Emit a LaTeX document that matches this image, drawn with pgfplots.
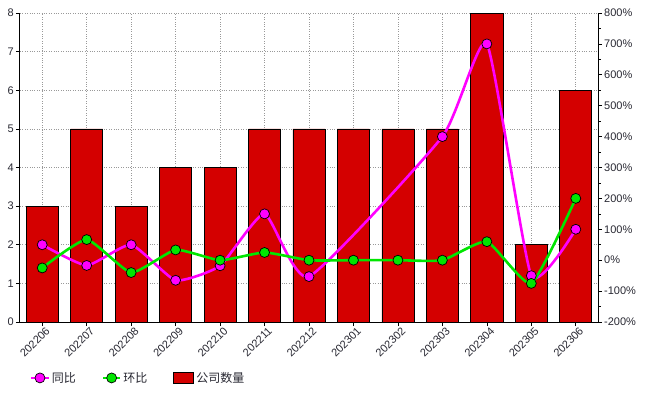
\documentclass[border=0pt]{standalone}
\usepackage{pgfplots}
\pgfplotsset{compat=1.18}
\usepackage{fontspec}
\setmainfont{Liberation Sans}
\newfontfamily\cjk{Noto Sans CJK SC}
\definecolor{barred}{RGB}{212,0,0}
\definecolor{mag}{RGB}{255,0,255}
\definecolor{grn}{RGB}{0,230,0}
\definecolor{tl}{RGB}{40,40,50}

\pgfplotstableread{
x n
0 3
1 5
2 3
3 4
4 4
5 5
6 5
7 5
8 5
9 5
10 8
11 2
12 6
}\bars
\pgfplotstableread{
x v
0 50
1 -17
2 50
3 -65
4 -18
5 150
6 -53
9 400
10 700
11 -50
12 100
}\yoy
\pgfplotstableread{
x v
0 -25
1 66.7
2 -40
3 33.3
4 0
5 25
6 0
7 0
8 0
9 0
10 60
11 -75
12 200
}\mom

\begin{document}
\begin{tikzpicture}
\pgfplotsset{
  every axis/.append style={
    scale only axis, width=578pt, height=309pt,
    xmin=-0.5, xmax=12.5,
    tick align=outside,
    major tick length=4pt, minor tick length=2.5pt,
    tick style={black, line width=0.6pt},
    tick label style={font=\fontsize{11}{13}\selectfont, text=tl},
    /pgf/number format/assume math mode=true,
    axis line style={black, line width=1pt},
  }
}
\begin{axis}[
  axis x line*=bottom, axis y line*=left,
  ymin=0, ymax=8, ytick={0,1,...,8},
  xtick={0,...,12},
  xticklabels={202206,202207,202208,202209,202210,202211,202212,202301,202302,202303,202304,202305,202306},
  x tick label style={rotate=45, anchor=north east, inner sep=0pt, xshift=2pt, yshift=-2pt},
  y tick label style={inner sep=2pt},
  grid=major,
  grid style={gray!80, dotted, line width=0.6pt},
]
\addplot[ybar, bar width=0.72, fill=barred, draw=black, line width=0.7pt] table[x=x,y=n]{\bars};
\end{axis}
\begin{axis}[
  axis y line*=right, axis x line=none,
  ymin=-200, ymax=800, ytick={-200,-100,...,800},
  minor y tick num=1,
  yticklabel={\pgfmathprintnumber{\tick}\%},
  y tick label style={inner sep=2pt},
  legend columns=3,
  legend style={draw=none, fill=none, at={(axis description cs:0.012,-0.181)}, anchor=west,
    font=\cjk\fontsize{12}{14}\selectfont, text=tl,
    /tikz/every even column/.append style={column sep=24pt}},
  legend cell align=left,
]
\addplot[mag, line width=2.6pt, smooth, tension=0.3, mark=*, mark size=5pt,
  mark options={fill=mag, draw=black, line width=0.7pt}] table[x=x,y=v]{\yoy};
\addlegendentry{同比}
\addplot[grn, line width=2.6pt, smooth, tension=0.3, mark=*, mark size=5pt,
  mark options={fill=grn, draw=black, line width=0.7pt}] table[x=x,y=v]{\mom};
\addlegendentry{环比}
\addlegendimage{legend image code/.code={\draw[fill=barred, draw=black, line width=0.8pt] (0pt,-5pt) rectangle (20pt,6pt);}}
\addlegendentry{公司数量}
\end{axis}
\pgfresetboundingbox
\path (-20pt,-72pt) rectangle (634pt,322pt);
\end{tikzpicture}
\end{document}
